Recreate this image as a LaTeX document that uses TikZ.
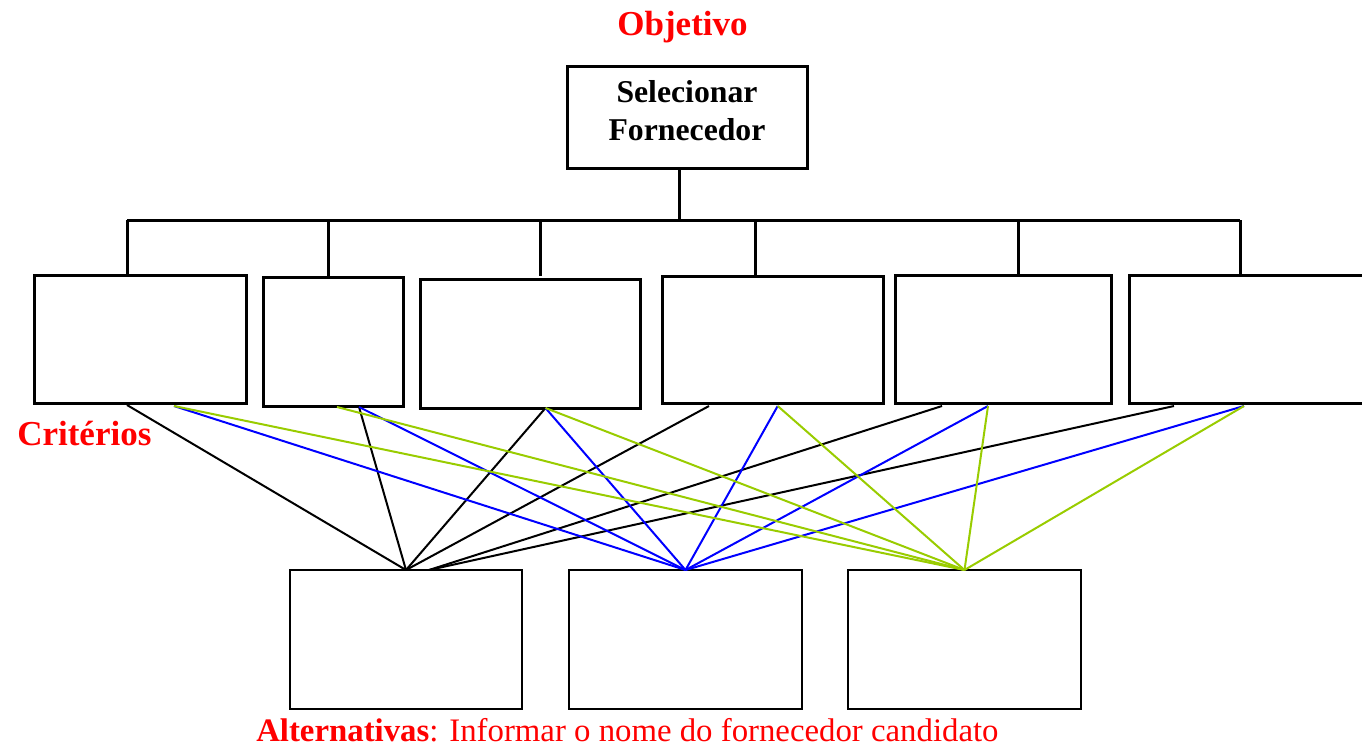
\documentclass[tikz,border=0pt]{standalone}
\usepackage{fontspec}
\setmainfont{Liberation Serif}
\usetikzlibrary{calc}
\definecolor{ygreen}{RGB}{153,204,0}
\definecolor{pblue}{RGB}{0,0,255}
\definecolor{pred}{RGB}{255,0,0}
\begin{document}
\begin{tikzpicture}[x=0.75pt,y=-0.75pt,
  box/.style={draw, line width=2.25pt, rectangle, anchor=north west, inner sep=0pt, outer sep=0pt},
  altbox/.style={draw, line width=1.9pt, rectangle, anchor=north west, inner sep=0pt, outer sep=0pt, minimum height=104.25pt},
  tree/.style={line width=2.25pt},
  kline/.style={black, line width=1.5pt},
  bline/.style={pblue, line width=1.5pt},
  gline/.style={ygreen, line width=1.5pt},
  redlab/.style={text=pred, inner sep=0pt}
]
\useasboundingbox (0,0) rectangle (1362,749);

% titles
\node[redlab, anchor=base, font=\fontsize{26.25}{30}\selectfont\bfseries] (obj) at (682.5,36) {Objetivo};
\node[redlab, anchor=base west, font=\fontsize{26.25}{30}\selectfont\bfseries] (crit) at (17,445) {Critérios};
\node[redlab, anchor=base west, font=\fontsize{24.6}{28}\selectfont] (alt) at (256,741) {\textbf{Alternativas}: Informar o nome do fornecedor candidato};

% goal box
\node[box, minimum width=180pt, minimum height=75.75pt] (top) at (567,67) {};
\node[inner sep=0pt, align=center, font=\fontsize{23.8}{28.2}\selectfont\bfseries] (toptext) at ($(top.center)+(0,-7)$) {Selecionar\\Fornecedor};

% criteria boxes
\node[box, minimum width=159pt, minimum height=96pt] (c1) at (34,275) {};
\node[box, minimum width=105pt, minimum height=96.75pt] (c2) at (263,277) {};
\node[box, minimum width=165pt, minimum height=96.75pt] (c3) at (420,279) {};
\node[box, minimum width=165.75pt, minimum height=95.25pt] (c4) at (662,276) {};
\node[box, minimum width=162pt, minimum height=96pt] (c5) at (895,275) {};
\node[box, minimum width=188.25pt, minimum height=96pt] (c6) at (1129,275) {};

% alternative boxes
\node[altbox, minimum width=174pt] (a1) at (290,570) {};
\node[altbox, minimum width=174.75pt] (a2) at (569,570) {};
\node[altbox, minimum width=174.75pt] (a3) at (848,570) {};

% tree
\coordinate (busL) at (127,220);
\coordinate (busR) at (1240,220);
\draw[tree] ($(top.south)+(-8,0)$) -- ($(top.south)+(-8,52)$);
\draw[tree] (busL) -- (busR);
\draw[tree] (busL) -- ($(c1.north west)+(93,0)$);
\draw[tree] ($(c2.north west)+(65,-57)$) -- ($(c2.north west)+(65,0)$);
\draw[tree] ($(c3.north west)+(120,-59)$) -- ($(c3.north west)+(120,-3)$);
\draw[tree] ($(c4.north west)+(93,-56)$) -- ($(c4.north west)+(93,0)$);
\draw[tree] ($(c5.north west)+(123,-55)$) -- ($(c5.north west)+(123,0)$);
\draw[tree] (busR) -- ($(c6.north west)+(111,0)$);

% black connectors
\draw[kline] ($(c1.south west)+(93,2)$) -- (a1.north);
\draw[kline] ($(c2.south west)+(96,1)$) -- (a1.north);
\draw[kline] ($(c3.south west)+(125.5,0)$) -- (a1.north);
\draw[kline] ($(c4.south west)+(47,3)$) -- (a1.north);
\draw[kline] ($(c5.south west)+(47,3)$) -- ($(a1.north)+(23,0)$);
\draw[kline] ($(c6.south west)+(45,3)$) -- ($(a1.north)+(23,0)$);

% blue connectors
\draw[bline] ($(c1.south west)+(140,3)$) -- (a2.north);
\draw[bline] ($(c2.south west)+(96,1)$) -- (a2.north);
\draw[bline] ($(c3.south west)+(125.5,0)$) -- (a2.north);
\draw[bline] ($(c4.south west)+(115.7,3)$) -- (a2.north);
\draw[bline] ($(c5.south west)+(93,3)$) -- (a2.north);
\draw[bline] ($(c6.south west)+(115,3)$) -- (a2.north);

% green connectors
\draw[gline] ($(c1.south west)+(140,3)$) -- (a3.north);
\draw[gline] ($(c2.south west)+(74,1)$) -- (a3.north);
\draw[gline] ($(c3.south west)+(125.5,0)$) -- (a3.north);
\draw[gline] ($(c4.south west)+(115.7,3)$) -- (a3.north);
\draw[gline] ($(c5.south west)+(93,3)$) -- (a3.north);
\draw[gline] ($(c6.south west)+(115,3)$) -- (a3.north);
\end{tikzpicture}
\end{document}
